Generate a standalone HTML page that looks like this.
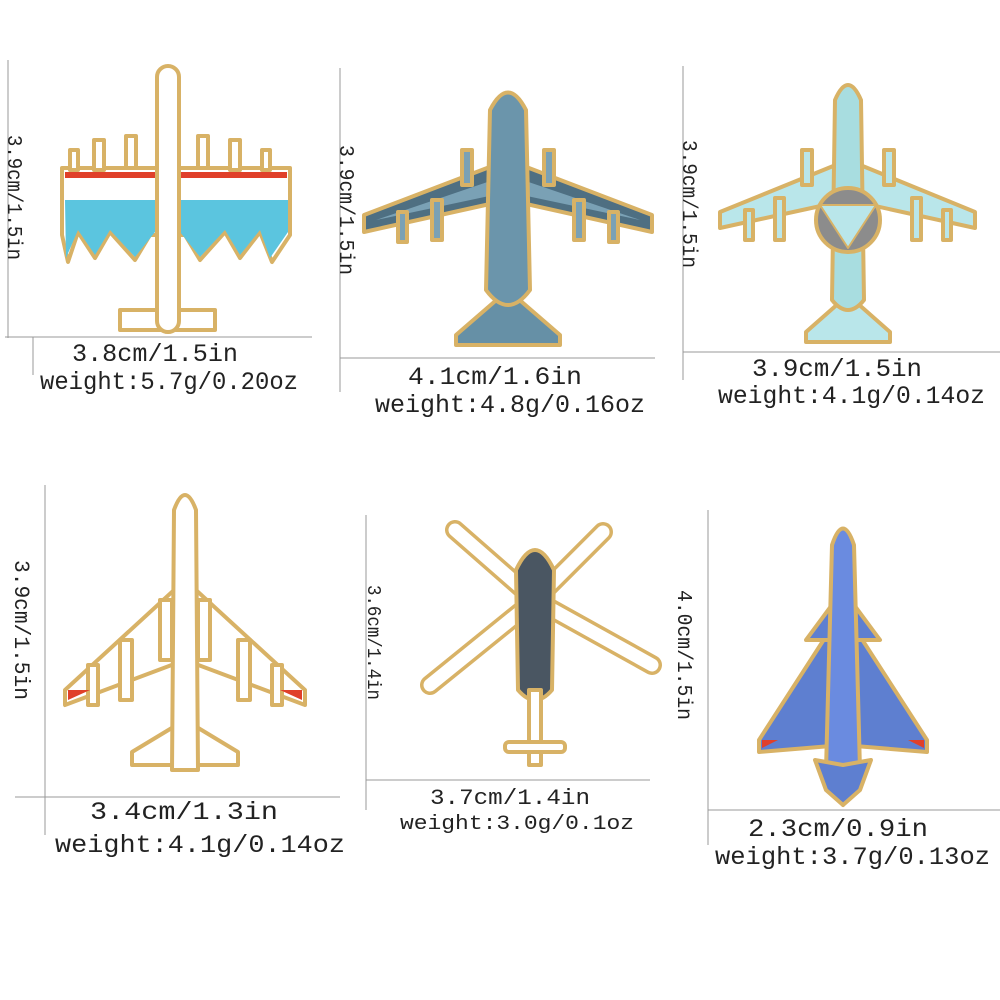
<!DOCTYPE html>
<html><head><meta charset="utf-8"><style>
html,body{margin:0;padding:0;background:#fff;width:1000px;height:1000px;overflow:hidden}
text{font-family:"Liberation Mono","DejaVu Sans Mono",monospace;fill:#222}
</style></head><body>
<svg width="1000" height="1000" viewBox="0 0 1000 1000" xmlns="http://www.w3.org/2000/svg">
<g stroke="#999" stroke-width="1" fill="none">
<line x1="8" y1="60" x2="8" y2="338"/><line x1="5" y1="337" x2="312" y2="337"/><line x1="33" y1="337" x2="33" y2="375"/>
<line x1="340" y1="68" x2="340" y2="392"/><line x1="340" y1="358" x2="655" y2="358"/>
<line x1="683" y1="66" x2="683" y2="380"/><line x1="683" y1="352" x2="1000" y2="352"/>
<line x1="45" y1="485" x2="45" y2="835"/><line x1="15" y1="797" x2="340" y2="797"/>
<line x1="366" y1="515" x2="366" y2="810"/><line x1="366" y1="780" x2="650" y2="780"/>
<line x1="708" y1="510" x2="708" y2="845"/><line x1="708" y1="810" x2="1000" y2="810"/>
</g>
<g font-size="25">
<text x="72" y="361" textLength="166" lengthAdjust="spacingAndGlyphs">3.8cm/1.5in</text>
<text x="40" y="389" textLength="258" lengthAdjust="spacingAndGlyphs">weight:5.7g/0.20oz</text>
<text x="408" y="384" textLength="174" lengthAdjust="spacingAndGlyphs">4.1cm/1.6in</text>
<text x="375" y="412" textLength="270" lengthAdjust="spacingAndGlyphs">weight:4.8g/0.16oz</text>
<text x="752" y="376" textLength="170" lengthAdjust="spacingAndGlyphs">3.9cm/1.5in</text>
<text x="718" y="403" textLength="267" lengthAdjust="spacingAndGlyphs">weight:4.1g/0.14oz</text>
<text x="90" y="819" textLength="188" lengthAdjust="spacingAndGlyphs">3.4cm/1.3in</text>
<text x="55" y="852" textLength="290" lengthAdjust="spacingAndGlyphs">weight:4.1g/0.14oz</text>
<text x="430" y="804" textLength="160" font-size="22" lengthAdjust="spacingAndGlyphs">3.7cm/1.4in</text>
<text x="400" y="829" textLength="234" font-size="20" lengthAdjust="spacingAndGlyphs">weight:3.0g/0.1oz</text>
<text x="748" y="836" textLength="180" lengthAdjust="spacingAndGlyphs">2.3cm/0.9in</text>
<text x="715" y="864" textLength="275" lengthAdjust="spacingAndGlyphs">weight:3.7g/0.13oz</text>
<text transform="translate(8,135) rotate(90)" textLength="125" lengthAdjust="spacingAndGlyphs" font-size="21">3.9cm/1.5in</text>
<text transform="translate(340,145) rotate(90)" textLength="130" lengthAdjust="spacingAndGlyphs" font-size="21">3.9cm/1.5in</text>
<text transform="translate(683,140) rotate(90)" textLength="128" lengthAdjust="spacingAndGlyphs" font-size="21">3.9cm/1.5in</text>
<text transform="translate(15,560) rotate(90)" textLength="140" lengthAdjust="spacingAndGlyphs" font-size="22">3.9cm/1.5in</text>
<text transform="translate(368,585) rotate(90)" textLength="115" lengthAdjust="spacingAndGlyphs" font-size="19">3.6cm/1.4in</text>
<text transform="translate(678,590) rotate(90)" textLength="130" lengthAdjust="spacingAndGlyphs" font-size="21">4.0cm/1.5in</text>
</g>
<g stroke="#d8b266" stroke-width="4" stroke-linejoin="round">
<!-- plane 1 -->
<path d="M62 168 L290 168 L290 235 L272 262 L260 232 L240 258 L225 232 L200 260 L185 235 L150 235 L135 260 L110 232 L95 258 L78 232 L68 262 L62 235Z" fill="#fff"/>
<path d="M65 200 L288 200 L288 232 L270 258 L260 230 L240 255 L225 230 L200 257 L180 232 L155 232 L135 257 L110 230 L95 255 L78 230 L66 258Z" fill="#5bc5df" stroke="none"/>
<rect x="65" y="172" width="222" height="6" fill="#e0402a" stroke="none"/>
<path d="M120 310 L215 310 L215 330 L120 330Z" fill="#fff"/>
<rect x="157" y="66" width="22" height="266" rx="11" fill="#fff"/>
<g fill="#fff"><rect x="94" y="140" width="10" height="30"/><rect x="126" y="136" width="10" height="32"/><rect x="198" y="136" width="10" height="32"/><rect x="230" y="140" width="10" height="30"/><rect x="70" y="150" width="8" height="20"/><rect x="262" y="150" width="8" height="20"/></g>
<!-- plane 2 -->
<path d="M508 160 L652 215 L652 232 L508 200 L364 232 L364 215Z" fill="#4e6f82"/>
<path d="M508 175 L640 220 L508 192 L376 220Z" fill="#7aa1b5" stroke="none"/>
<g fill="#7aa1b5"><rect x="462" y="150" width="10" height="35"/><rect x="544" y="150" width="10" height="35"/><rect x="432" y="200" width="10" height="40"/><rect x="574" y="200" width="10" height="40"/><rect x="398" y="212" width="9" height="30"/><rect x="609" y="212" width="9" height="30"/></g>
<path d="M508 290 L560 335 L560 345 L456 345 L456 335Z" fill="#6690a6"/>
<path d="M490 110 Q508 75 526 110 L530 290 Q508 320 486 290Z" fill="#6b95ab"/>
<!-- plane 3 -->
<path d="M848 160 L975 212 L975 228 L848 200 L720 228 L720 212Z" fill="#b9e6ea"/>
<g fill="#b9e6ea"><rect x="802" y="150" width="10" height="35"/><rect x="884" y="150" width="10" height="35"/><rect x="775" y="198" width="9" height="42"/><rect x="912" y="198" width="9" height="42"/><rect x="745" y="210" width="8" height="30"/><rect x="943" y="210" width="8" height="30"/></g>
<path d="M848 295 L890 332 L890 342 L806 342 L806 332Z" fill="#b9e6ea"/>
<path d="M835 100 Q848 70 861 100 L864 300 Q848 320 832 300Z" fill="#a8dde0"/>
<circle cx="848" cy="220" r="32" fill="#8c8c8c"/>
<path d="M820 205 L876 205 L848 248Z" fill="#b9e6ea" stroke-width="2"/>
<!-- plane 4 -->
<path d="M185 580 L305 690 L305 705 L185 660 L65 705 L65 690Z" fill="#fff"/>
<g fill="#fff"><rect x="160" y="600" width="12" height="60"/><rect x="198" y="600" width="12" height="60"/><rect x="120" y="640" width="12" height="60"/><rect x="238" y="640" width="12" height="60"/><rect x="88" y="665" width="10" height="40"/><rect x="272" y="665" width="10" height="40"/></g>
<path d="M185 720 L238 752 L238 765 L132 765 L132 752Z" fill="#fff"/>
<path d="M174 510 Q185 480 196 510 L198 770 L172 770Z" fill="#fff"/>
<path d="M68 690 L90 690 L68 700Z M302 690 L280 690 L302 700Z" fill="#e0402a" stroke="none"/>
</g>
<!-- helicopter rotors -->
<g stroke-linecap="round" fill="none">
<g stroke="#d8b266" stroke-width="20">
<line x1="535" y1="600" x2="455" y2="530"/><line x1="535" y1="600" x2="603" y2="532"/><line x1="535" y1="600" x2="652" y2="665"/><line x1="535" y1="600" x2="430" y2="685"/>
</g>
<g stroke="#fff" stroke-width="13">
<line x1="535" y1="600" x2="455" y2="530"/><line x1="535" y1="600" x2="603" y2="532"/><line x1="535" y1="600" x2="652" y2="665"/><line x1="535" y1="600" x2="430" y2="685"/>
</g>
</g>
<g stroke="#d8b266" stroke-width="4" stroke-linejoin="round">
<path d="M516 570 Q535 530 554 570 L552 690 Q535 710 518 690Z" fill="#4a5662"/>
<rect x="529" y="690" width="12" height="75" fill="#fff"/>
<rect x="505" y="742" width="60" height="10" rx="4" fill="#fff"/>
<!-- plane 6 -->
<path d="M843 610 L927 740 L927 752 L843 745 L759 752 L759 740Z" fill="#5e7fd0"/>
<path d="M843 590 L880 640 L806 640Z" fill="#5e7fd0"/>
<path d="M832 545 Q843 512 854 545 L860 770 L843 805 L826 770Z" fill="#6a8be0"/>
<path d="M815 760 L843 765 L871 760 L860 790 L843 805 L826 790Z" fill="#5e7fd0"/>
<path d="M762 740 L778 740 L762 748Z M924 740 L908 740 L924 748Z" fill="#e0402a" stroke="none"/>
</g>
</svg>
</body></html>
